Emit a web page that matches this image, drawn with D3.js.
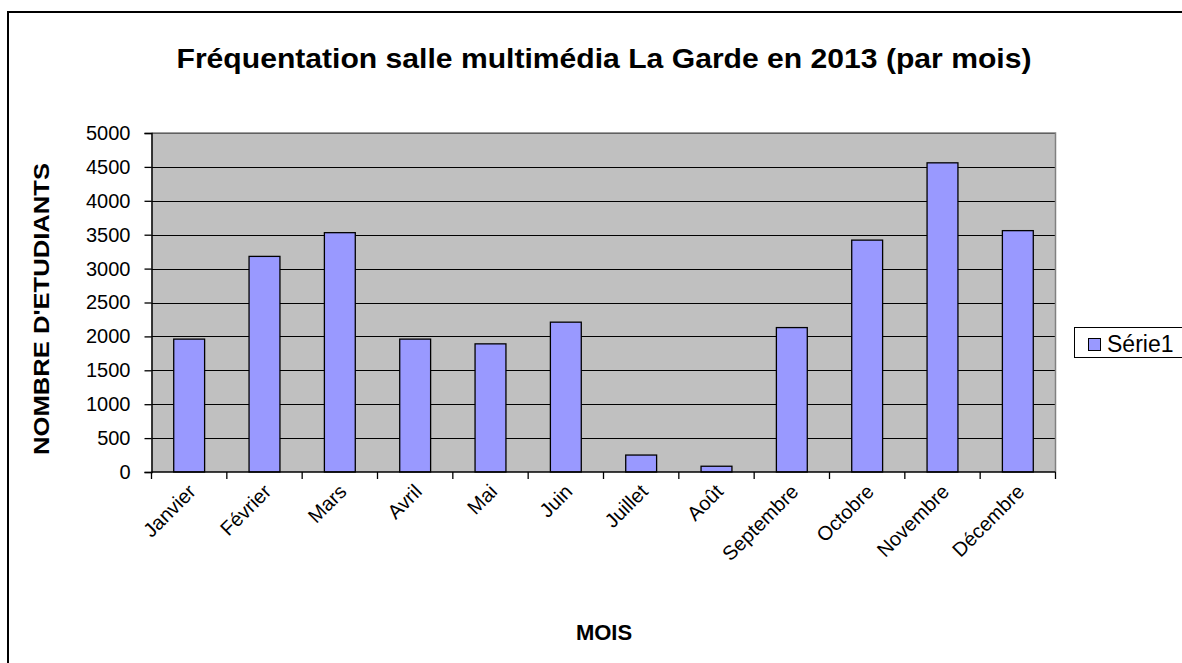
<!DOCTYPE html>
<html><head><meta charset="utf-8">
<script src="https://cdn.jsdelivr.net/npm/d3@7"></script>
<style>body{margin:0;background:#fff}svg{display:block;font-family:Arial,"Liberation Sans",sans-serif}</style>
</head><body>
<svg id="c" width="1182" height="663"></svg>
<script>
const categories = ["Janvier","Février","Mars","Avril","Mai","Juin","Juillet","Août","Septembre","Octobre","Novembre","Décembre"];
const values = [1960,3180,3530,1960,1890,2210,250,85,2130,3420,4560,3560];
const yTicks = [0,500,1000,1500,2000,2500,3000,3500,4000,4500,5000];
const seriesName = "Série1";
const title = "Fréquentation salle multimédia La Garde en 2013 (par mois)";
const yTitle = "NOMBRE D'ETUDIANTS";
const xTitle = "MOIS";

const svg = d3.select("#c");
const L=151.5, R=1055.5, T=133, B=472;

svg.append("rect").attr("x",8).attr("y",12).attr("width",1200).attr("height",700)
  .attr("fill","#fff").attr("stroke","#000").attr("stroke-width",2);

const x = d3.scaleBand().domain(categories).range([L,R]).paddingInner(0.59).paddingOuter(0.295);
const xb = d3.scaleBand().domain(categories).range([L,R]);
const y = d3.scaleLinear().domain([0,5000]).range([B,T]);

svg.append("rect").attr("x",L).attr("y",T).attr("width",R-L).attr("height",B-T).attr("fill","#C0C0C0");
svg.append("g").selectAll("line").data(yTicks.slice(1)).join("line")
  .attr("x1",L).attr("x2",R).attr("y1",d=>Math.round(y(d))+0.5).attr("y2",d=>Math.round(y(d))+0.5)
  .attr("stroke","#000").attr("stroke-width",1);
svg.append("path").attr("d",`M${L},${T}H${R}V${B}`).attr("fill","none").attr("stroke","#808080").attr("stroke-width",1.5);

svg.append("g").selectAll("rect").data(values).join("rect")
  .attr("x",(d,i)=>x(categories[i])).attr("width",x.bandwidth())
  .attr("y",d=>y(d)).attr("height",d=>B-y(d))
  .attr("fill","#9999FF").attr("stroke","#000").attr("stroke-width",1.3);

const ya = svg.append("g").attr("transform",`translate(${L},0)`)
  .call(d3.axisLeft(y).tickValues(yTicks).tickSize(7).tickPadding(14).tickFormat(d3.format("d")));
ya.select(".domain").attr("stroke","#000").attr("stroke-width",1.5);
ya.selectAll(".tick line").attr("stroke","#000").attr("stroke-width",1.3);
ya.selectAll("text").attr("font-size",20).attr("fill","#000").attr("font-family","Arial,'Liberation Sans',sans-serif");

const bounds = categories.map(c=>xb(c)).concat([R]);
svg.append("line").attr("x1",L).attr("x2",R).attr("y1",B).attr("y2",B).attr("stroke","#000").attr("stroke-width",1.5);
svg.append("g").selectAll("line").data(bounds).join("line")
  .attr("x1",d=>d).attr("x2",d=>d).attr("y1",B).attr("y2",B+7).attr("stroke","#000").attr("stroke-width",1.3);
svg.append("g").selectAll("text").data(categories).join("text")
  .attr("transform",d=>`translate(${xb(d)+xb.bandwidth()/2-2},${B+11}) rotate(-45)`)
  .attr("text-anchor","end").attr("dy","0.7em").attr("font-size",20).text(d=>d);

svg.append("text").attr("x",604).attr("y",68).attr("text-anchor","middle")
  .attr("font-size",28).attr("font-weight","bold").attr("textLength",855).attr("lengthAdjust","spacingAndGlyphs").text(title);
svg.append("text").attr("transform",`translate(49,309) rotate(-90)`).attr("text-anchor","middle")
  .attr("font-size",22).attr("font-weight","bold").attr("textLength",292).attr("lengthAdjust","spacingAndGlyphs").text(yTitle);
svg.append("text").attr("x",604).attr("y",640).attr("text-anchor","middle")
  .attr("font-size",22).attr("font-weight","bold").text(xTitle);

svg.append("rect").attr("x",1074.5).attr("y",327.5).attr("width",120).attr("height",30)
  .attr("fill","#fff").attr("stroke","#000").attr("stroke-width",1);
svg.append("rect").attr("x",1088.5).attr("y",338.5).attr("width",12).attr("height",12)
  .attr("fill","#9999FF").attr("stroke","#000").attr("stroke-width",1);
svg.append("text").attr("x",1107).attr("y",352).attr("font-size",23).text(seriesName);
</script>
</body></html>
